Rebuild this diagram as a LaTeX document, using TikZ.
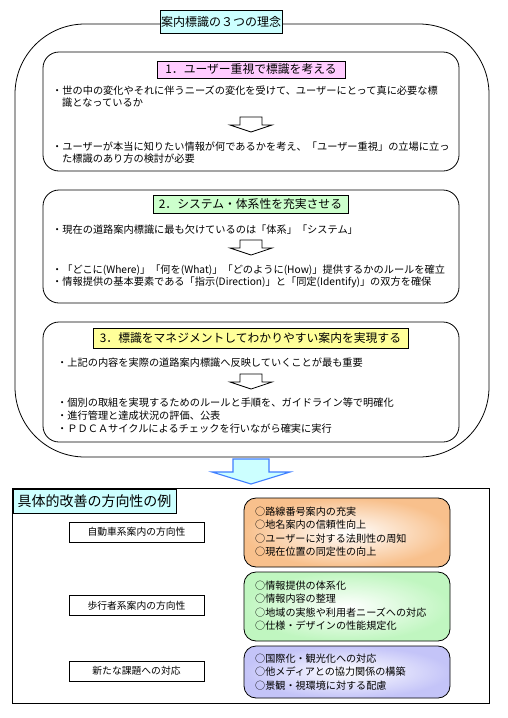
\documentclass[tikz,border=0pt]{standalone}
\usepackage{fontspec}
\setmainfont{Noto Sans CJK JP}
\definecolor{cyanbox}{HTML}{CCFFFF}
\definecolor{pinkbox}{HTML}{FFCCFF}
\definecolor{greenbox}{HTML}{CCFFCC}
\definecolor{yellowbox}{HTML}{FFFF99}
\definecolor{peach}{HTML}{F8C08C}
\definecolor{mint}{HTML}{C0F6C0}
\definecolor{lavender}{HTML}{C4C4F8}
\definecolor{arrowblue}{HTML}{3F7FFF}
\begin{document}
\begin{tikzpicture}[x=1pt,y=-1pt,
  line/.style={line width=0.8pt},
  body/.style={anchor=west,inner sep=0pt,font=\fontsize{10.2}{12}\selectfont},
  item/.style={anchor=west,inner sep=0pt,font=\fontsize{10.1}{12}\selectfont},
  headbox/.style={draw,line width=0.8pt,inner sep=0pt,font=\fontsize{11.8}{14}\selectfont},
  leftbox/.style={draw,line width=0.8pt,inner sep=0pt,minimum width=135pt,minimum height=20pt,font=\fontsize{9.8}{12}\selectfont},
  panel/.style={draw,line width=0.8pt,rounded corners=16pt},
  hollowarrow/.pic={\draw[line width=0.8pt,fill=white] (-11,0) -- (11,0) -- (11,8) -- (21,8) -- (0,15) -- (-21,8) -- (-11,8) -- cycle;}
]
\useasboundingbox[fill=white] (0,0) rectangle (507,718);

% outer rounded frame
\draw[line,rounded corners=70pt] (15,24) rectangle (489,457);
\node[headbox,fill=cyanbox,minimum width=122pt,minimum height=23pt,font=\fontsize{12}{14}\selectfont] (title) at (221,21.5) {案内標識の３つの理念};

% panel 1
\draw[panel] (43,52) rectangle (459,171);
\node[headbox,fill=pinkbox,minimum width=188pt,minimum height=17pt] (t1) at (251,69.5) {1．ユーザー重視で標識を考える};
\node[body] (p1a) at (52,91) {・世の中の変化やそれに伴うニーズの変化を受けて、ユーザーにとって真に必要な標};
\node[body] (p1b) at (62,103) {識となっているか};
\pic at (251,117) {hollowarrow};
\node[body] (p1c) at (52,147) {・ユーザーが本当に知りたい情報が何であるかを考え、「ユーザー重視」の立場に立っ};
\node[body] (p1d) at (62,159) {た標識のあり方の検討が必要};

% panel 2
\draw[panel] (43,190) rectangle (459,303);
\node[headbox,fill=greenbox,minimum width=195pt,minimum height=18pt] (t2) at (250.5,204) {2．システム・体系性を充実させる};
\node[body] (p2a) at (52,230) {・現在の道路案内標識に最も欠けているのは「体系」「システム」};
\pic at (251,240) {hollowarrow};
\node[body] (p2b) at (52,270) {・「どこに(Where)」「何を(What)」「どのように(How)」提供するかのルールを確立};
\node[body] (p2c) at (52,282) {・情報提供の基本要素である「指示(Direction)」と「同定(Identify)」の双方を確保};

% panel 3
\draw[panel] (43,322) rectangle (459,442);
\node[headbox,fill=yellowbox,minimum width=315pt,minimum height=20pt] (t3) at (250.5,338) {3．標識をマネジメントしてわかりやすい案内を実現する};
\node[body] (p3a) at (57,363) {・上記の内容を実際の道路案内標識へ反映していくことが最も重要};
\pic at (251,374) {hollowarrow};
\node[body] (p3b) at (57,403) {・個別の取組を実現するためのルールと手順を、ガイドライン等で明確化};
\node[body] (p3c) at (57,416) {・進行管理と達成状況の評価、公表};
\node[body] (p3d) at (57,429) {・ＰＤＣＡサイクルによるチェックを行いながら確実に実行};

% big blue arrow
\draw[line width=1.1pt,draw=arrowblue,fill=cyanbox,line join=miter]
  (233,459) -- (269,459) -- (269,472) -- (290,472) -- (251,484) -- (212,472) -- (233,472) -- cycle;

% lower frame
\draw[line] (12,488) rectangle (489,703);
\node[draw,line width=1pt,fill=cyanbox,anchor=north west,inner sep=0pt,minimum width=163pt,minimum height=24pt,
      font=\fontsize{14}{16}\selectfont,text width=155pt,align=left] (ex) at (13,489) {具体的改善の方向性の例};

\node[leftbox] (car) at (136.5,532) {自動車系案内の方向性};
\node[leftbox] (walk) at (136.5,605.5) {歩行者系案内の方向性};
\node[leftbox] (new) at (136.5,671) {新たな課題への対応};

% right coloured panels
\shade[rounded corners=12pt,inner color=white,outer color=peach] (244,498) rectangle (450,567);
\draw[line,rounded corners=12pt] (244,498) rectangle (450,567);
\node[item] (c1) at (255,512) {○路線番号案内の充実};
\node[item] (c2) at (255,525) {○地名案内の信頼性向上};
\node[item] (c3) at (255,538.5) {○ユーザーに対する法則性の周知};
\node[item] (c4) at (255,552) {○現在位置の同定性の向上};

\shade[rounded corners=12pt,inner color=white,outer color=mint] (244,572) rectangle (450,641);
\draw[line,rounded corners=12pt] (244,572) rectangle (450,641);
\node[item] (w1) at (255,586) {○情報提供の体系化};
\node[item] (w2) at (255,599) {○情報内容の整理};
\node[item] (w3) at (255,612.5) {○地域の実態や利用者ニーズへの対応};
\node[item] (w4) at (255,626) {○仕様・デザインの性能規定化};

\shade[rounded corners=12pt,inner color=white,outer color=lavender] (244,646) rectangle (450,698);
\draw[line,rounded corners=12pt] (244,646) rectangle (450,698);
\node[item] (n1) at (255,659) {○国際化・観光化への対応};
\node[item] (n2) at (255,672) {○他メディアとの協力関係の構築};
\node[item] (n3) at (255,686) {○景観・視環境に対する配慮};
\end{tikzpicture}
\end{document}
